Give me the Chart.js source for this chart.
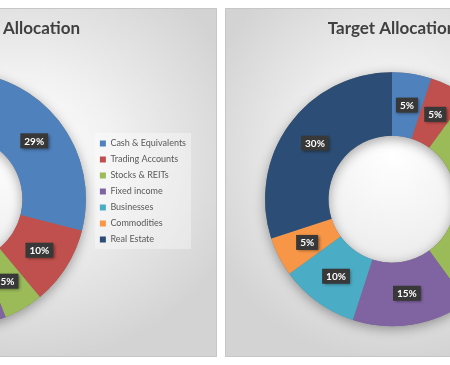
<!DOCTYPE html>
<html>
<head>
<meta charset="utf-8">
<script src="https://cdn.jsdelivr.net/npm/chart.js@4.4.1/dist/chart.umd.min.js"></script>
<style>
  html, body { margin: 0; padding: 0; background: #fff; width: 450px; height: 365px; overflow: hidden; }
  body { position: relative; }
  .panel {
    position: absolute; top: 8px; height: 349px; box-sizing: border-box;
    border: 1px solid #c6c6c6;
    background: radial-gradient(ellipse 60% 60% at 50% 42%, #ffffff 0%, #f1f1f1 40%, #d3d3d3 100%);
  }
  .panel canvas { position: absolute; left: -1px; top: -1px; }
  #leftPanel { left: -175px; width: 392px; }
  #rightPanel { left: 225px; width: 334px; }
</style>
</head>
<body>
<div class="panel" id="leftPanel"><canvas id="currentChart" width="392" height="349"></canvas></div>
<div class="panel" id="rightPanel"><canvas id="targetChart" width="334" height="349"></canvas></div>
<script>
// data
var categories = ['Cash & Equivalents', 'Trading Accounts', 'Stocks & REITs', 'Fixed income', 'Businesses', 'Commodities', 'Real Estate'];
var currentValues = [29, 10, 5, 15, 10, 5, 26];
var targetValues = [5, 5, 30, 15, 10, 5, 30];
var colors = ['#4f81bd', '#c0504d', '#9bbb59', '#8064a2', '#4bacc6', '#f79646', '#2c4d75'];

var fontFamily = 'Lato, "Open Sans", sans-serif';

// soft shadow under the ring, drawn before the slices
var ringShadow = {
  id: 'ringShadow',
  beforeDatasetsDraw: function (chart) {
    var arc = chart.getDatasetMeta(0).data[0];
    if (!arc) return;
    var ctx = chart.ctx;
    ctx.save();
    ctx.beginPath();
    ctx.arc(arc.x, arc.y, arc.outerRadius, 0, Math.PI * 2);
    ctx.arc(arc.x, arc.y, arc.innerRadius, Math.PI * 2, 0, true);
    ctx.closePath();
    ctx.shadowColor = 'rgba(0,0,0,0.35)';
    ctx.shadowBlur = 12;
    ctx.shadowOffsetY = 3;
    ctx.fillStyle = '#777';
    ctx.fill();
    ctx.restore();
  }
};

// dark percent boxes on each slice
var sliceLabels = {
  id: 'sliceLabels',
  afterDatasetsDraw: function (chart) {
    var ctx = chart.ctx;
    var values = chart.data.datasets[0].data;
    var total = values.reduce(function (a, b) { return a + b; }, 0);
    ctx.save();
    ctx.font = 'bold 10px ' + fontFamily;
    ctx.textAlign = 'center';
    ctx.textBaseline = 'middle';
    chart.getDatasetMeta(0).data.forEach(function (el, i) {
      var p = el.getCenterPoint();
      var txt = Math.round(values[i] / total * 100) + '%';
      var w = ctx.measureText(txt).width + 8;
      var h = 15;
      ctx.shadowColor = 'rgba(0,0,0,0.45)';
      ctx.shadowBlur = 3;
      ctx.shadowOffsetX = 1.5;
      ctx.shadowOffsetY = 1.5;
      ctx.fillStyle = '#383838';
      ctx.fillRect(p.x - w / 2, p.y - h / 2, w, h);
      ctx.shadowColor = 'transparent';
      ctx.fillStyle = '#fff';
      ctx.fillText(txt, p.x, p.y + 0.5);
    });
    ctx.restore();
  }
};

// light box behind the legend
var legendBack = {
  id: 'legendBack',
  beforeDraw: function (chart) {
    var lg = chart.legend;
    if (!lg || !lg.options.display || !lg.legendHitBoxes.length) return;
    var boxes = lg.legendHitBoxes;
    var left = boxes[0].left - 5;
    var right = Math.max.apply(null, boxes.map(function (b) { return b.left + b.width; })) + 5;
    var top = boxes[0].top - 6;
    var bottom = boxes[boxes.length - 1].top + boxes[boxes.length - 1].height + 5;
    var ctx = chart.ctx;
    ctx.save();
    ctx.fillStyle = 'rgba(255,255,255,0.35)';
    ctx.fillRect(left, top, right - left, bottom - top);
    ctx.restore();
  }
};

function makeChart(id, title, values, showLegend, padRight) {
  return new Chart(document.getElementById(id), {
    type: 'doughnut',
    data: {
      labels: categories,
      datasets: [{
        data: values,
        backgroundColor: colors,
        borderWidth: 0,
        radius: 127,
        cutout: '50%'
      }]
    },
    options: {
      responsive: false,
      animation: false,
      devicePixelRatio: 1,
      layout: { padding: { left: 0, right: padRight, top: 0, bottom: 0 } },
      plugins: {
        title: {
          display: true,
          text: title,
          color: '#404040',
          font: { family: fontFamily, size: 17, weight: 'bold' },
          padding: { top: 10, bottom: 3 }
        },
        legend: {
          display: showLegend,
          position: 'right',
          title: { display: true, text: ' ', font: { size: 10, lineHeight: 1.2 }, padding: 3 },
          labels: {
            boxWidth: 6,
            boxHeight: 6,
            padding: 7,
            color: '#595959',
            font: { family: fontFamily, size: 9, lineHeight: 1.1 }
          }
        },
        tooltip: { enabled: false }
      }
    },
    plugins: [legendBack, ringShadow, sliceLabels]
  });
}

makeChart('currentChart', 'Current Allocation', currentValues, true, 21);
makeChart('targetChart', 'Target Allocation', targetValues, false, 0);
</script>
</body>
</html>
